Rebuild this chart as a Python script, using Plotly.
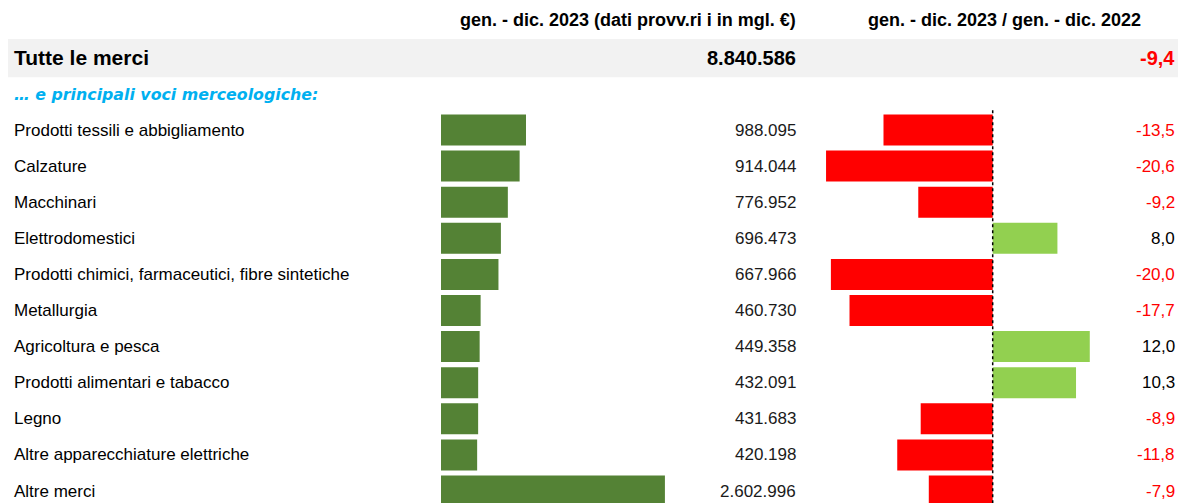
import plotly.graph_objects as go

# dati (in migliaia di euro) e variazioni percentuali
categories = [
    "Prodotti tessili e abbigliamento",
    "Calzature",
    "Macchinari",
    "Elettrodomestici",
    "Prodotti chimici, farmaceutici, fibre sintetiche",
    "Metallurgia",
    "Agricoltura e pesca",
    "Prodotti alimentari e tabacco",
    "Legno",
    "Altre apparecchiature elettriche",
    "Altre merci",
]
values = [988095, 914044, 776952, 696473, 667966, 460730, 449358, 432091, 431683, 420198, 2602996]
variations = [-13.5, -20.6, -9.2, 8.0, -20.0, -17.7, 12.0, 10.3, -8.9, -11.8, -7.9]

total_label = "Tutte le merci"
total_value = 8840586
total_variation = -9.4

header_values = "gen. - dic. 2023 (dati provv.ri i in mgl. €)"
header_variation = "gen. - dic. 2023 / gen. - dic. 2022"
subtitle = "… e principali voci merceologiche:"

W, H = 1178, 503
FONT = "Liberation Sans, Arial, sans-serif"
SUB_FONT = "DejaVu Sans, Verdana, sans-serif"
GREEN = "#548235"
LIGHT_GREEN = "#92D050"
RED = "#FF0000"


def fmt_int(v):
    return f"{v:,}".replace(",", ".")


def fmt_pct(v):
    return f"{v:.1f}".replace(".", ",")


rows = list(range(len(categories)))

fig = go.Figure()

fig.add_trace(go.Bar(
    x=values, y=rows, orientation="h",
    marker=dict(color=GREEN, line=dict(width=0)),
    width=0.86, xaxis="x", yaxis="y", hoverinfo="skip",
))

fig.add_trace(go.Bar(
    x=variations, y=rows, orientation="h",
    marker=dict(color=[RED if v < 0 else LIGHT_GREEN for v in variations], line=dict(width=0)),
    width=0.86, xaxis="x2", yaxis="y", hoverinfo="skip",
))


def note(text, x, anchor, y, size, color="#000000", family=FONT):
    return dict(text=text, x=x / W, xanchor=anchor, xref="paper", y=y, yref="y",
                showarrow=False, font=dict(size=size, color=color, family=family))


annotations = [
    # intestazioni
    note(f"<b>{header_values}</b>", 798, "right", -3.05, 18),
    note(f"<b>{header_variation}</b>", 1143, "right", -3.05, 18),
    # riga totale
    note(f"<b>{total_label}</b>", 12, "left", -2, 21),
    note(f"<b>{fmt_int(total_value)}</b>", 798, "right", -2, 20),
    note(f"<b>{fmt_pct(total_variation)}</b>", 1177, "right", -2, 20,
         RED if total_variation < 0 else "#000000"),
    # sottotitolo
    note(f"<b><i>{subtitle}</i></b>", 12, "left", -0.97, 15.8, "#00B0F0", SUB_FONT),
]

for i, (cat, val, var) in enumerate(zip(categories, values, variations)):
    annotations.append(note(cat, 12, "left", i, 17))
    annotations.append(note(fmt_int(val), 798, "right", i, 17, "#1a1a1a"))
    annotations.append(note(fmt_pct(var), 1177, "right", i, 17, RED if var < 0 else "#000000"))

# scala verticale: riga i centrata a 130 + 36.1*i px
y_top = (0 - 130) / 36.1
y_bottom = (H - 130) / 36.1

px_per_unit = 85 / 988095
x_dom = (441 / W, 797 / W)
x_range = [0, (797 - 441) / px_per_unit]

px_per_pct = 8.09
zero2 = 992.7
x2_dom = (810 / W, 1110 / W)
x2_range = [(810 - zero2) / px_per_pct, (1110 - zero2) / px_per_pct]

fig.update_layout(
    width=W, height=H,
    margin=dict(l=0, r=0, t=0, b=0),
    paper_bgcolor="white", plot_bgcolor="rgba(0,0,0,0)",
    showlegend=False,
    barmode="overlay",
    xaxis=dict(domain=x_dom, range=x_range, visible=False, fixedrange=True),
    xaxis2=dict(domain=x2_dom, range=x2_range, visible=False, fixedrange=True),
    yaxis=dict(range=[y_bottom, y_top], visible=False, fixedrange=True),
    annotations=annotations,
    shapes=[
        dict(type="rect", xref="paper", yref="y", x0=8 / W, x1=1, y0=-2.52, y1=-1.46,
             fillcolor="#F2F2F2", line=dict(width=0), layer="below"),
        dict(type="line", xref="x2", yref="y", x0=0, x1=0, y0=-0.55, y1=y_bottom + 0.5,
             line=dict(color="black", width=1.5, dash="dot")),
    ],
)

fig.write_html("out.html", config={"displayModeBar": False},
               post_script="document.body.style.margin='0';document.body.style.overflow='hidden';")
